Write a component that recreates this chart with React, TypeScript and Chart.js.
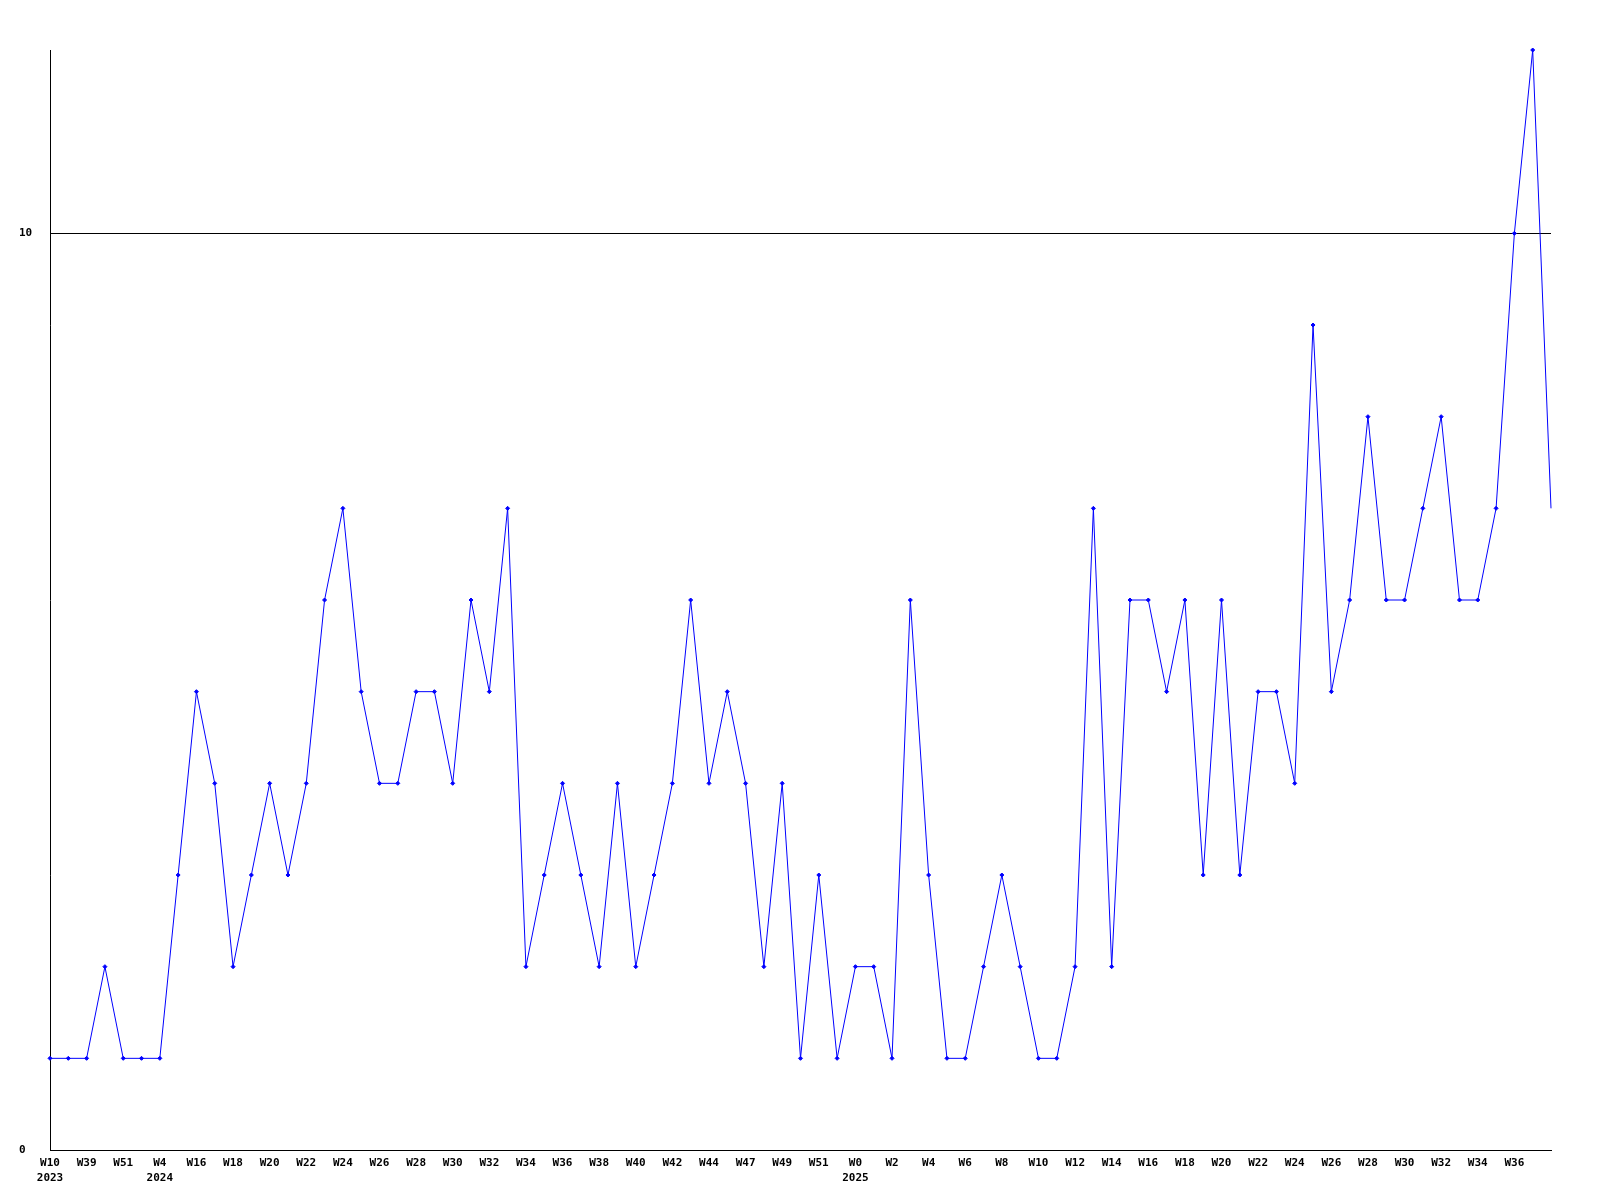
import React, { useEffect, useRef } from 'react';
import { Chart, registerables } from 'chart.js';

Chart.register(...registerables);

// Weekly counts, one per point (83 points)
const values: number[] = [
  1, 1, 1, 2, 1, 1, 1, 3, 5, 4,
  2, 3, 4, 3, 4, 6, 7, 5, 4, 4,
  5, 5, 4, 6, 5, 7, 2, 3, 4, 3,
  2, 4, 2, 3, 4, 6, 4, 5, 4, 2,
  4, 1, 3, 1, 2, 2, 1, 6, 3, 1,
  1, 2, 3, 2, 1, 1, 2, 7, 2, 6,
  6, 5, 6, 3, 6, 3, 5, 5, 4, 9,
  5, 6, 8, 6, 6, 7, 8, 6, 6, 7,
  10, 12, 7,
];

// Tick labels shown on every other point
const weekTickLabels: string[] = [
  'W10', 'W39', 'W51', 'W4', 'W16', 'W18', 'W20', 'W22', 'W24', 'W26',
  'W28', 'W30', 'W32', 'W34', 'W36', 'W38', 'W40', 'W42', 'W44', 'W47',
  'W49', 'W51', 'W0', 'W2', 'W4', 'W6', 'W8', 'W10', 'W12', 'W14',
  'W16', 'W18', 'W20', 'W22', 'W24', 'W26', 'W28', 'W30', 'W32', 'W34',
  'W36',
];

const yearTickLabels: string[] = [
  '2023', '', '', '2024', '', '', '', '', '', '',
  '', '', '', '', '', '', '', '', '', '',
  '', '', '2025', '', '', '', '', '', '', '',
  '', '', '', '', '', '', '', '', '', '',
  '',
];

const yTickValues: number[] = [0, 10];
const yMax = 12;

const categories: (string | string[])[] = values.map((_, i) => {
  if (i % 2 !== 0) return '';
  const k = i / 2;
  const w = weekTickLabels[k];
  if (w === undefined) return '';
  const y = yearTickLabels[k];
  return y ? [w, y] : w;
});

const tickFont = {
  family: "'DejaVu Sans Mono', monospace",
  weight: 'bold' as const,
  size: 11,
  lineHeight: '15px',
};

export default function App() {
  const canvasRef = useRef<HTMLCanvasElement | null>(null);

  useEffect(() => {
    if (!canvasRef.current) return;
    const chart = new Chart(canvasRef.current, {
      type: 'line',
      data: {
        labels: categories,
        datasets: [
          {
            data: values,
            borderColor: '#0000ff',
            backgroundColor: '#0000ff',
            borderWidth: 1,
            tension: 0,
            fill: false,
            pointStyle: 'rectRot',
            pointRadius: (ctx: any) => (ctx.dataIndex === values.length - 1 ? 0 : 2),
            pointBorderWidth: 1,
            pointBorderColor: '#0000ff',
            pointBackgroundColor: '#0000ff',
            clip: false as any,
          },
        ],
      },
      options: {
        animation: false,
        responsive: false,
        devicePixelRatio: 1,
        layout: { padding: { left: 19, top: 50, right: 49, bottom: 0 } },
        plugins: {
          legend: { display: false },
          tooltip: { enabled: false },
          title: { display: false },
        },
        scales: {
          x: {
            type: 'category',
            offset: false,
            grid: { display: false, drawTicks: false },
            border: { display: true, color: '#000000', width: 1 },
            ticks: {
              autoSkip: false,
              maxRotation: 0,
              minRotation: 0,
              padding: 6,
              color: '#000000',
              font: tickFont,
            },
            afterFit: (s: any) => {
              s.height = 50;
            },
          },
          y: {
            min: 0,
            max: yMax,
            afterBuildTicks: (s: any) => {
              s.ticks = yTickValues.map((v) => ({ value: v }));
            },
            grid: { color: '#000000', lineWidth: 1, drawTicks: false },
            border: { display: true, color: '#000000', width: 1 },
            ticks: {
              crossAlign: 'far',
              padding: 0,
              color: '#000000',
              font: tickFont,
            },
            afterFit: (s: any) => {
              s.width = 31;
            },
          },
        },
      },
    });
    return () => chart.destroy();
  }, []);

  return (
    <div style={{ position: 'absolute', left: 0, top: 0, width: 1600, height: 1200, background: '#ffffff' }}>
      <canvas ref={canvasRef} width={1600} height={1200} style={{ width: 1600, height: 1200 }} />
    </div>
  );
}
